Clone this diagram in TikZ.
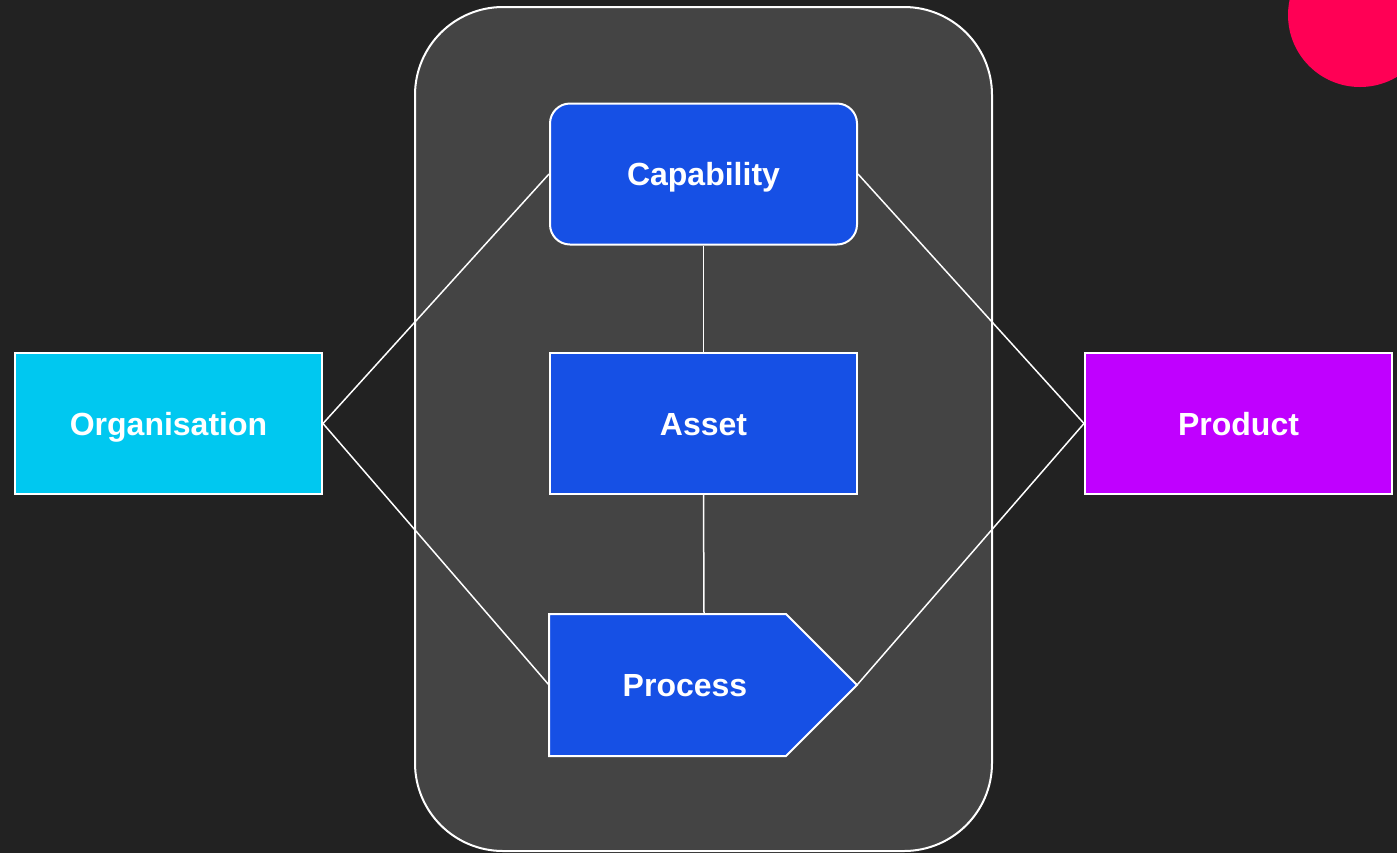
\documentclass[tikz,border=0pt]{standalone}
\usepackage{fontspec}
\setmainfont{Liberation Sans}
\definecolor{bgc}{HTML}{222222}
\definecolor{panelc}{HTML}{444444}
\definecolor{bluec}{HTML}{1650E5}
\definecolor{cyanc}{HTML}{00C8F0}
\definecolor{purpc}{HTML}{C000FF}
\definecolor{redc}{HTML}{FF0055}
\begin{document}
\begin{tikzpicture}[x=0.5pt,y=-0.5pt,
  lbl/.style={font=\fontsize{16}{18}\selectfont\bfseries,text=white,text height=11.5pt,text depth=0pt},
  box/.style={lbl,draw=white,line width=1pt,minimum width=153.5pt,minimum height=70.5pt,inner sep=0pt},
  conn/.style={draw=white,line width=0.75pt}]
\useasboundingbox (0,0) rectangle (1397,853);
\fill[bgc] (0,0) rectangle (1397,853);
\begin{scope}
\clip (0,0) rectangle (1397,853);
\fill[redc] (1360,15) circle[radius=72];
\end{scope}
\draw[white,fill=panelc,line width=1pt,rounded corners=44pt] (415,7) rectangle (992,851);
% nodes
\node[box,fill=bluec,rounded corners=10pt] (cap) at (703.5,174) {Capability};
\node[box,fill=bluec] (asset) at (703.5,423.5) {Asset};
\node[box,fill=cyanc] (org) at (168.5,423.5) {Organisation};
\node[box,fill=purpc] (prod) at (1238.5,423.5) {Product};
% process shape
\coordinate (procleft) at (549,685);
\coordinate (proctop) at (704,614);
\coordinate (proctip) at (857,685);
\filldraw[fill=bluec,draw=white,line width=1pt,line join=miter] (549,614) -- (786,614) -- (proctip) -- (786,756) -- (549,756) -- cycle;
\node[lbl] (proc) at (685,685) {Process};
% connectors
\draw[conn] (org.east) -- (cap.west);
\draw[conn] (org.east) -- (procleft);
\draw[conn] (cap.east) -- (prod.west);
\draw[conn] (proctip) -- (prod.west);
\draw[conn] (cap.south) -- (asset.north);
\draw[conn] (asset.south) -- (proctop);
\end{tikzpicture}
\end{document}
